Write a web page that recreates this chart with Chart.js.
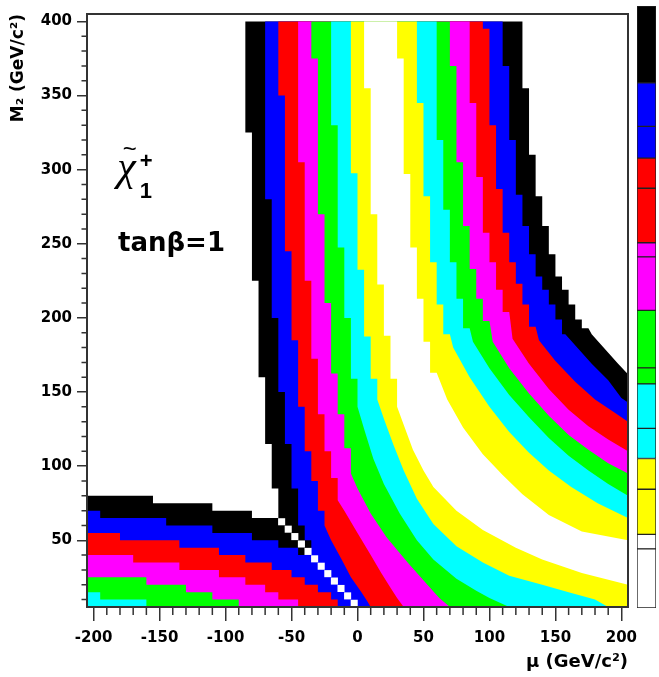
<!DOCTYPE html>
<html>
<head>
<meta charset="utf-8">
<script src="https://cdn.jsdelivr.net/npm/chart.js@4.4.1/dist/chart.umd.min.js"></script>
<style>
  html, body { margin: 0; padding: 0; background: #fff; }
  #wrap { position: relative; width: 659px; height: 677px; }
  #main { position: absolute; left: 0; top: 0; }
  #pal { position: absolute; left: 637px; top: 6px; }
</style>
</head>
<body>
<div id="wrap">
  <canvas id="main" width="659" height="677"></canvas>
  <canvas id="pal" width="19" height="602"></canvas>
</div>
<script>
/* ---------- data: contour boundaries in (mu, M2), GeV ---------- */
const xTicks = [-200, -150, -100, -50, 0, 50, 100, 150, 200];
const yTicks = [50, 100, 150, 200, 250, 300, 350, 400];

// level 0 = white core ... level 7 = black
const bandColors = ['#ffffff', '#ffff00', '#00ffff', '#00ff00', '#ff00ff', '#ff0000', '#0000ff', '#000000'];

// left arm, outer edge of each level, top -> bottom
const leftArm7 = [[-85,400],[-85,325],[-80,325],[-80,225],[-75,225],[-75,160],[-70,160],[-70,115],[-65,115],[-65,85],[-60,85],[-60,65]];
const leftArm6 = [[-70,400],[-70,280],[-65,280],[-65,200],[-60,200],[-60,150],[-55,150],[-55,115],[-50,115],[-50,85],[-45,85],[-45,60],[-40,60],[-40,50],[-35,50],[-35,45]];
const leftArm5 = [[-60,400],[-60,350],[-55,350],[-55,245],[-50,245],[-50,185],[-45,185],[-45,140],[-40,140],[-40,110],[-35,110],[-35,90],[-30,90],[-30,70],[-25,70],[-25,60],[-20,50],[-12,37],[-5,25],[3,15],[8,8],[10,5]];
const leftArm4 = [[-45,400],[-45,305],[-40,305],[-40,225],[-35,225],[-35,172.5],[-30,172.5],[-30,135],[-25,135],[-25,110],[-20,110],[-20,92],[-15,92],[-15,77],[-10,70],[0,55],[10,40],[18,28],[25,18],[30,11],[35,5]];
const leftArm3 = [[-35,400],[-35,375],[-30,375],[-30,270],[-25,270],[-25,210],[-20,210],[-20,162.5],[-15,162.5],[-15,135],[-10,135],[-10,112],[-5,112],[-5,95],[0,85],[10,68],[22,52],[38,35],[55,18],[62,11],[70,5]];
const leftArm2 = [[-20,400],[-20,330],[-15,330],[-15,247.5],[-10,247.5],[-10,200],[-5,200],[-5,159],[0,159],[0,140],[5,125],[12,105],[20,88],[32,68],[45,50],[57.5,37],[75,24],[90,16],[100,11],[115,5]];
const leftArm1 = [[-5,400],[-5,297.5],[0,297.5],[0,232.5],[5,232.5],[5,187.5],[10,187.5],[10,159],[15,159],[15,145],[20,132],[27,115],[35,97],[45,78],[57.5,61],[75,46],[95,35],[115,26],[140,20],[160,15],[180,10],[190,5]];
const leftArm0 = [[5,400],[5,355],[10,355],[10,270],[15,270],[15,222.5],[20,222.5],[20,188],[25,188],[25,159],[30,159],[30,140],[35,128],[42,111],[50,97],[57.5,86],[75,70],[95,57],[120,45],[140,37],[170,28],[205,20]];

// right arm, outer edge of each level, top -> right border
const rightArm0 = [[30,400],[30,375],[35,375],[35,297],[40,297],[40,247.5],[45,247.5],[45,213],[50,213],[50,184],[55,184],[55,163],[60,163],[68,145],[80,126],[95,108],[110,94],[125,81],[145,67],[170,56],[205,50]];
const rightArm1 = [[45,400],[45,345],[50,345],[50,282],[55,282],[55,237.5],[60,237.5],[60,209],[65,209],[65,189],[70,189],[72.5,180],[85,160],[100,140],[115,123],[130,109],[145,97],[162,86],[182,75],[205,65]];
const rightArm2 = [[60,400],[60,320],[65,320],[65,273],[70,273],[70,237.5],[75,237.5],[75,213],[80,213],[80,193],[85,193],[87.5,184],[100,166],[115,148],[130,133],[145,119],[160,107],[175,97],[190,88],[205,80]];
const rightArm3 = [[70,400],[70,370],[75,370],[75,305],[80,305],[80,262],[85,262],[85,233],[90,233],[90,213],[95,213],[95,198],[100,198],[102.5,184],[115,166],[130,149],[145,134],[160,121],[175,111],[190,102],[205,95]];
const rightArm4 = [[85,400],[85,345],[90,345],[90,295],[95,295],[95,257.5],[100,257.5],[100,237.5],[105,237.5],[105,219],[110,219],[110,204],[115,204],[117.5,186],[130,169],[145,152],[160,138],[175,127],[190,118],[205,110]];
const rightArm5 = [[95,400],[95,395],[100,395],[100,330],[105,330],[105,287],[110,287],[110,257.5],[115,257.5],[115,237.5],[120,237.5],[120,223],[125,223],[125,209],[130,209],[130,194],[135,194],[137.5,185],[150,171],[165,157],[180,145],[195,136],[205,130]];
const rightArm6 = [[110,400],[110,370],[115,370],[115,320],[120,320],[120,283],[125,283],[125,262],[130,262],[130,243],[135,243],[135,228],[140,228],[140,219],[145,219],[145,209],[150,209],[150,199],[155,199],[155,189],[157.5,189],[167.5,179],[177.5,169],[190,158],[200,146],[205,143]];
const rightArm7 = [[125,400],[125,355],[130,355],[130,310],[135,310],[135,282],[140,282],[140,262],[145,262],[145,243],[150,243],[150,228],[155,228],[155,219],[160,219],[160,209],[165,209],[165,199],[170,199],[170,193],[175,193],[177.5,189],[187.5,179],[197.5,169],[205,162]];

// lower-left flat bands (mu < -M2), top edge of each level, left -> right
const lowLeft7 = [[-205,80],[-155,80],[-155,75],[-110,75],[-110,70],[-80,70],[-80,65],[-60,65]];
const lowLeft6 = [[-205,70],[-195,70],[-195,65],[-145,65],[-145,60],[-110,60],[-110,55],[-80,55],[-80,50],[-60,50],[-60,45],[-45,45],[-45,40],[-40,40]];
const lowLeft5 = [[-205,55],[-180,55],[-180,50],[-135,50],[-135,45],[-105,45],[-105,40],[-85,40],[-85,35],[-65,35],[-65,30],[-50,30],[-50,25],[-40,25],[-40,20],[-30,20],[-30,15],[-20,15],[-20,10],[-15,10],[-15,5]];
const lowLeft4 = [[-205,40],[-170,40],[-170,35],[-135,35],[-135,30],[-105,30],[-105,25],[-85,25],[-85,20],[-70,20],[-70,15],[-60,15],[-60,10],[-45,10],[-45,5]];
const lowLeft3 = [[-205,25],[-160,25],[-160,20],[-130,20],[-130,15],[-110,15],[-110,10],[-90,10],[-90,5]];
const lowLeft2 = [[-205,15],[-195,15],[-195,10],[-160,10],[-160,5]];

// empty cells on the mu = -M2 line
const diagMu = [-57.5, -52.5, -47.5, -42.5, -37.5, -32.5, -27.5, -22.5, -17.5, -12.5, -7.5, -2.5];
const diagM2 = [62.5, 57.5, 52.5, 47.5, 42.5, 37.5, 32.5, 27.5, 22.5, 17.5, 12.5, 7.5];

// palette boxes, bottom -> top
const palEdges = [0, 59, 73.4, 118.4, 149, 179, 223.4, 239.4, 296.7, 350, 364, 418.4, 448.4, 480, 523.4, 600];
const palColors = ['#ffffff','#ffffff','#ffff00','#ffff00','#00ffff','#00ffff','#00ff00','#00ff00','#ff00ff','#ff00ff','#ff0000','#ff0000','#0000ff','#0000ff','#000000'];

/* ---------- helpers ---------- */
const rev = a => a.slice().reverse();
const toXY = pts => pts.map(p => ({ x: p[0], y: p[1] }));

// painted bottom to top, each covers everything of lower level
const regions = [
    { c: 7, pts: [[-205,5], ...lowLeft7, ...rev(leftArm7), ...rightArm7, [205,5]] },
    { c: 6, pts: [[-205,5], ...lowLeft6, ...rev(leftArm6), ...rightArm6, [205,5]] },
    { c: 5, pts: [[-205,5], ...lowLeft5] },
    { c: 5, pts: [...leftArm5, [205,5], ...rev(rightArm5)] },
    { c: 4, pts: [[-205,5], ...lowLeft4] },
    { c: 4, pts: [...leftArm4, [205,5], ...rev(rightArm4)] },
    { c: 3, pts: [[-205,5], ...lowLeft3] },
    { c: 3, pts: [...leftArm3, [205,5], ...rev(rightArm3)] },
    { c: 2, pts: [[-205,5], ...lowLeft2] },
    { c: 2, pts: [...leftArm2, [205,5], ...rev(rightArm2)] },
    { c: 1, pts: [...leftArm1, [205,5], ...rev(rightArm1)] },
    { c: 0, pts: [...leftArm0, ...rev(rightArm0)] }
];

const datasets = regions.map((r, i) => ({
    data: toXY(r.pts),
    showLine: true,
    fill: 'shape',
    backgroundColor: bandColors[r.c],
    borderColor: 'rgba(0,0,0,0)',
    borderWidth: 0,
    pointRadius: 0,
    order: regions.length - i + 1
}));
datasets.push({
    data: diagMu.map((m, i) => ({ x: m, y: diagM2[i] })),
    pointStyle: 'rect',
    pointRadius: 5,
    backgroundColor: '#ffffff',
    borderWidth: 0,
    order: 0
});

/* ---------- plugins ---------- */
const AXIS_COLOR = '#333';
const FONT = 'DejaVu Sans';

const frameAndMinor = {
    id: 'frameAndMinor',
    afterDraw(chart) {
        const { ctx, chartArea: a, scales: { x, y } } = chart;
        ctx.save();
        ctx.strokeStyle = AXIS_COLOR;
        ctx.lineWidth = 1.5;
        ctx.beginPath();
        for (let v = -200; v <= 200; v += 10) {
            if (v % 50 === 0) continue;
            const px = x.getPixelForValue(v);
            ctx.moveTo(px, a.bottom); ctx.lineTo(px, a.bottom + 8);
        }
        for (let v = 10; v <= 400; v += 10) {
            if (v % 50 === 0) continue;
            const py = y.getPixelForValue(v);
            ctx.moveTo(a.left - 5.5, py); ctx.lineTo(a.left, py);
        }
        ctx.stroke();
        ctx.lineWidth = 2;
        ctx.strokeRect(a.left, a.top, a.right - a.left, a.bottom - a.top);
        ctx.restore();
    }
};

const textLabels = {
    id: 'textLabels',
    afterDatasetsDraw(chart) {
        const { ctx, scales: { x, y } } = chart;
        ctx.save();
        ctx.fillStyle = '#000';
        ctx.textAlign = 'left';
        ctx.textBaseline = 'alphabetic';
        ctx.font = 'italic 42px "Liberation Serif"';
        ctx.fillText('χ', x.getPixelForValue(-182), y.getPixelForValue(293));
        ctx.font = '24px "Liberation Sans"';
        ctx.textBaseline = 'middle';
        ctx.fillText('~', x.getPixelForValue(-178), y.getPixelForValue(313));
        ctx.font = 'bold 22px "Liberation Sans"';
        ctx.fillText('+', x.getPixelForValue(-165), y.getPixelForValue(305));
        ctx.textBaseline = 'alphabetic';
        ctx.fillText('1', x.getPixelForValue(-165), y.getPixelForValue(281));
        ctx.font = 'bold 26px "' + FONT + '"';
        ctx.fillText('tanβ=1', x.getPixelForValue(-181.5), y.getPixelForValue(245));
        ctx.restore();
    }
};

/* ---------- main chart ---------- */
const tickFont = { family: FONT, size: 15, weight: 'bold' };
const titleFont = { family: FONT, size: 17, weight: 'bold' };

new Chart(document.getElementById('main'), {
    type: 'scatter',
    data: { datasets },
    options: {
        responsive: false,
        animation: false,
        devicePixelRatio: 1,
        events: [],
        layout: { padding: { left: 0, right: 31, top: 7, bottom: 0 } },
        plugins: { legend: { display: false }, tooltip: { enabled: false } },
        scales: {
            x: {
                type: 'linear', min: -205, max: 205,
                afterBuildTicks: axis => { axis.ticks = xTicks.map(v => ({ value: v })); },
                afterFit: s => { s.height = 70; },
                border: { display: false },
                grid: { drawOnChartArea: false, tickLength: 14, color: AXIS_COLOR, lineWidth: 1.5 },
                ticks: { font: tickFont, color: '#000', padding: 8, maxRotation: 0 },
                title: { display: true, text: 'μ (GeV/c²)', align: 'end', color: '#000',
                         font: { family: FONT, size: 18, weight: 'bold' }, padding: { top: 0, bottom: 4 } }
            },
            y: {
                type: 'linear', min: 5, max: 405,
                afterBuildTicks: axis => { axis.ticks = yTicks.map(v => ({ value: v })); },
                afterFit: s => { s.width = 87; },
                border: { display: false },
                grid: { drawOnChartArea: false, tickLength: 10, color: AXIS_COLOR, lineWidth: 1.5 },
                ticks: { font: tickFont, color: '#000', padding: 5 },
                title: { display: true, text: 'M₂ (GeV/c²)', align: 'end', color: '#000',
                         font: titleFont, padding: { top: 8, bottom: 0 } }
            }
        }
    },
    plugins: [frameAndMinor, textLabels]
});

/* ---------- palette ---------- */
new Chart(document.getElementById('pal'), {
    type: 'bar',
    data: {
        labels: [''],
        datasets: palColors.map((c, i) => ({
            data: [palEdges[i + 1] - palEdges[i]],
            backgroundColor: c,
            borderColor: '#222',
            borderWidth: 1,
            borderSkipped: false,
            barPercentage: 1,
            categoryPercentage: 1
        }))
    },
    options: {
        responsive: false,
        animation: false,
        devicePixelRatio: 1,
        events: [],
        layout: { padding: 0 },
        plugins: { legend: { display: false }, tooltip: { enabled: false } },
        scales: {
            x: { stacked: true, display: false },
            y: { stacked: true, display: false, min: 0, max: 600 }
        }
    }
});
</script>
</body>
</html>
